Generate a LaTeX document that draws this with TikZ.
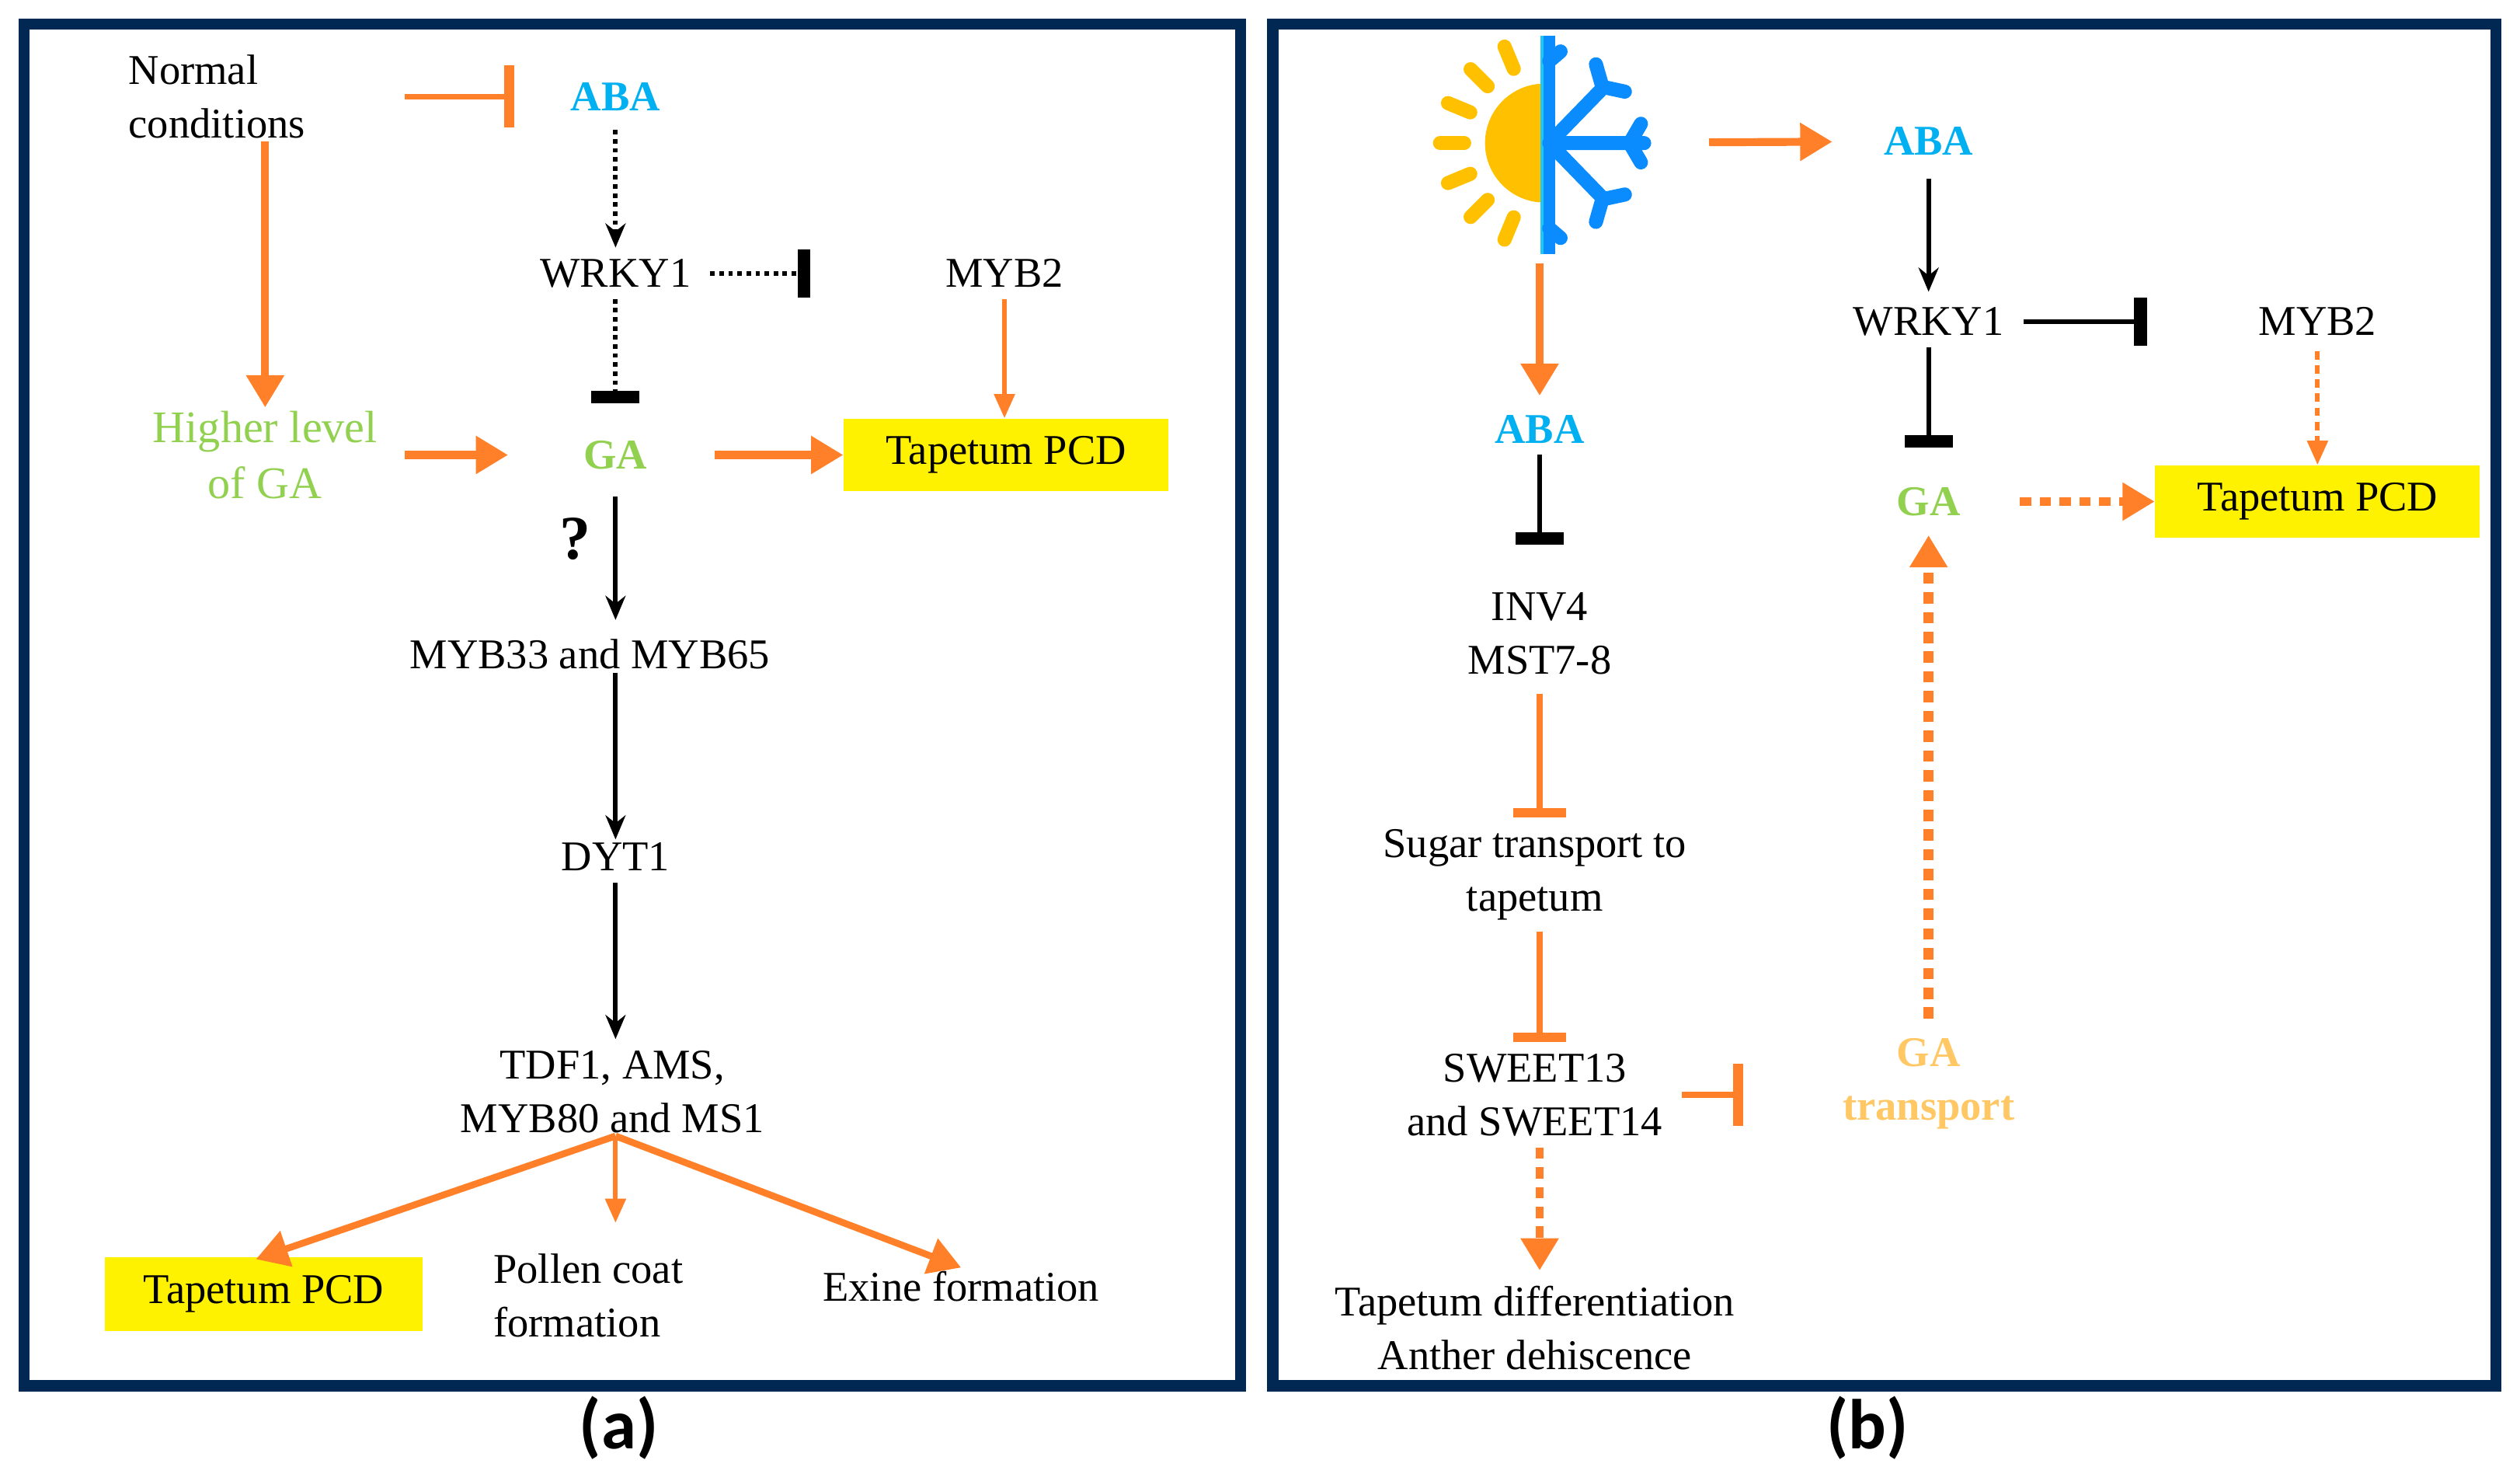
\documentclass[tikz,border=0pt]{standalone}
\usepackage{fontspec}
\setmainfont{Liberation Serif}
\newfontfamily\labfont{Carlito}
\usetikzlibrary{arrows.meta}
\definecolor{frame}{RGB}{0,40,82}
\definecolor{orng}{RGB}{255,128,40}
\definecolor{abab}{RGB}{0,176,240}
\definecolor{gag}{RGB}{146,208,80}
\definecolor{gatr}{RGB}{255,200,100}
\definecolor{sunc}{RGB}{255,192,0}
\definecolor{snow}{RGB}{10,140,255}
\definecolor{snowl}{RGB}{30,200,240}
\newcommand{\fs}{\fontsize{15}{19}\selectfont}
\begin{document}
\begin{tikzpicture}[x=0.02cm,y=-0.02cm,
  txt/.style={font=\fs,align=center,inner sep=1pt},
  aba/.style={txt,font=\fs\bfseries,text=abab},
  ga/.style={txt,font=\fs\bfseries,text=gag},
  pcd/.style={font=\fs,fill=yellow,minimum width=4.04cm,minimum height=0.9cm,inner sep=0pt},
  blk/.style={draw=black,line width=1.6pt,-{Stealth[length=0.3cm,width=0.25cm]}},
  blkd/.style={blk,dash pattern=on 1.6pt off 1.6pt},
  obig/.style={draw=orng,line width=2.8pt,-{Triangle[length=0.4cm,width=0.45cm]}},
  obigd/.style={obig,dash pattern=on 4pt off 3pt},
  othin/.style={draw=orng,line width=1.6pt,-{Triangle[length=0.3cm,width=0.25cm]}},
  othind/.style={othin,dash pattern=on 3pt off 2pt},
  binh/.style={draw=black,line width=1.6pt,-{Bar[width=0.6cm,line width=4.5pt]}},
  binhd/.style={binh,dash pattern=on 1.6pt off 1.6pt},
  oinh/.style={draw=orng,line width=2pt,-{Bar[width=0.78cm,line width=3.5pt]}},
  oinhs/.style={draw=orng,line width=2pt,-{Bar[width=0.66cm,line width=3.5pt]}}]
\useasboundingbox (0,0) rectangle (1568,921);

% frames
\draw[frame,line width=4pt] (15,15) rectangle (772,862);
\draw[frame,line width=4pt] (792,15) rectangle (1553,862);
\node[font=\labfont\fontsize{25}{28}\selectfont\bfseries] (lbla) at (385,888) {(a)};
\node[font=\labfont\fontsize{25}{28}\selectfont\bfseries] (lblb) at (1162,888) {(b)};

% panel (a)
\node[txt,align=left,anchor=west] (norm) at (78,60) {Normal\\conditions};
\node[aba] (abaA) at (383,60) {ABA};
\node[txt] (wrkA) at (383,170) {WRKY1};
\node[txt] (mybA) at (625,170) {MYB2};
\node[txt,text=gag,font=\fontsize{16}{20}\selectfont] (high) at (165,283) {Higher level\\of GA};
\node[ga] (gaA) at (383,283) {GA};
\node[pcd] (pcdA) at (626,283) {Tapetum PCD};
\node[txt,font=\fontsize{22}{24}\selectfont\bfseries] (quest) at (358,335) {?};
\node[txt] (myb33) at (367,407) {MYB33 and MYB65};
\node[txt] (dyt) at (383,533) {DYT1};
\node[txt] (tdf) at (381,679) {TDF1, AMS,\\MYB80 and MS1};
\node[pcd,minimum width=3.96cm,minimum height=0.92cm] (pcdB) at (164,805) {Tapetum PCD};
\node[txt,align=left,anchor=west] (poll) at (305,806) {Pollen coat\\formation};
\node[txt] (exine) at (598,800) {Exine formation};

\draw[oinh,shorten <=1.2cm,shorten >=0.66cm] (norm.east) -- (abaA.west);
\draw[obig] (high.north |- norm.south) -- (high.north);
\draw[blkd,shorten <=0.2cm,shorten >=0.1cm] (abaA) -- (wrkA);
\draw[binhd,shorten <=0.2cm,shorten >=1.64cm] (wrkA.east) -- (mybA.west);
\draw[binhd,shorten <=0.1cm,shorten >=0.42cm] (wrkA) -- (gaA);
\draw[othin,shorten <=0.1cm] (mybA) -- (pcdA.north -| mybA);
\draw[obig,shorten <=0.3cm,shorten >=0.9cm] (high.east) -- (gaA.west);
\draw[obig,shorten <=0.8cm] (gaA.east) -- (pcdA.west);
\draw[blk,shorten <=0.3cm,shorten >=0.2cm] (gaA) -- (gaA |- myb33.north);
\draw[blk] (dyt.north |- myb33.south) -- (dyt);
\draw[blk,shorten <=0.1cm,shorten >=0.1cm] (dyt) -- (tdf.north -| dyt);
\draw[obig,line width=2.4pt,shorten >=-0.1cm] (tdf.south -| dyt) -- (pcdB.north);
\draw[othin] (tdf.south -| dyt) -- ++(0,54) coordinate (pollT);
\draw[obig,line width=2.4pt] (tdf.south -| dyt) -- (exine.north);

% panel (b): heat and cold icon
\begin{scope}[shift={(961,89)}]
  \fill[sunc] (0,-37) arc[start angle=90,end angle=270,radius=0.74cm] -- cycle;
  \foreach \a in {112.5,135,157.5,180,202.5,225,247.5}
    \draw[sunc,line width=5pt,line cap=round] (\a:1cm) -- (\a:1.3cm);
  \draw[snowl,line width=3pt] (0,-67) -- (0,69);
  \draw[snow,line width=4pt] (3,-67) -- (3,69);
  \draw[snow,line width=5pt,line cap=round]
    (3,0) -- (62,0) (53,0) -- (60,-12) (53,0) -- (60,12)
    (3,0) -- (37,-35) (36,-35) -- (32,-49) (36,-35) -- (50,-32)
    (3,0) -- (37,35) (36,35) -- (32,49) (36,35) -- (50,32)
    (3,-51) -- (10,-57) (3,53) -- (10,59);
\end{scope}
\coordinate (icon) at (961,89);

\node[aba] (abaB) at (1200,88) {ABA};
\node[txt] (wrkB) at (1200,200) {WRKY1};
\node[txt] (mybB) at (1442,200) {MYB2};
\node[ga] (gaB) at (1200,312) {GA};
\node[pcd] (pcdC) at (1442,312) {Tapetum PCD};
\node[txt,font=\fs\bfseries,text=gatr] (gatrans) at (1200,674) {GA\\transport};
\node[aba] (abaC) at (958,267) {ABA};
\node[txt] (inv) at (958,394) {INV4\\MST7-8};
\node[txt] (sugar) at (955,544) {Sugar transport to\\tapetum};
\node[txt] (sweet) at (955,681) {SWEET13\\and SWEET14};
\node[txt] (tapdif) at (955,826) {Tapetum differentiation\\Anther dehiscence};

\draw[obig,shorten <=2.05cm,shorten >=0.6cm] (icon) -- (abaB.west);
\draw[obig,shorten <=1.5cm,shorten >=0.2cm] (icon -| abaC) -- (abaC);
\draw[blk,shorten <=0.25cm,shorten >=0.15cm] (abaB) -- (wrkB);
\draw[binh,shorten <=0.2cm,shorten >=1.35cm] (wrkB.east) -- (mybB.west);
\draw[binh,shorten <=0.1cm,shorten >=0.45cm] (wrkB) -- (gaB);
\draw[othind,shorten <=0.15cm] (mybB) -- (pcdC.north -| mybB);
\draw[obigd,shorten <=0.7cm] (gaB.east) -- (pcdC.west);
\draw[obigd,shorten <=0.2cm,shorten >=0.2cm,line width=3.5pt] (gatrans) -- (gaB);
\draw[binh,shorten <=0.1cm,shorten >=0.55cm] (abaC) -- (inv);
\draw[oinhs,shorten <=0.2cm,shorten >=0.1cm] (inv.south -| abaC) -- (sugar.north -| abaC);
\draw[oinhs,shorten <=0.1cm,shorten >=0.1cm] (sugar.south -| abaC) -- (sweet.north -| abaC);
\draw[oinh,shorten <=0.2cm,shorten >=1.2cm] (sweet.east) -- (sweet.east -| gatrans.west);
\draw[obigd,shorten <=0.1cm,shorten >=0.15cm] (sweet.south -| abaC) -- (tapdif.north -| abaC);
\end{tikzpicture}
\end{document}
